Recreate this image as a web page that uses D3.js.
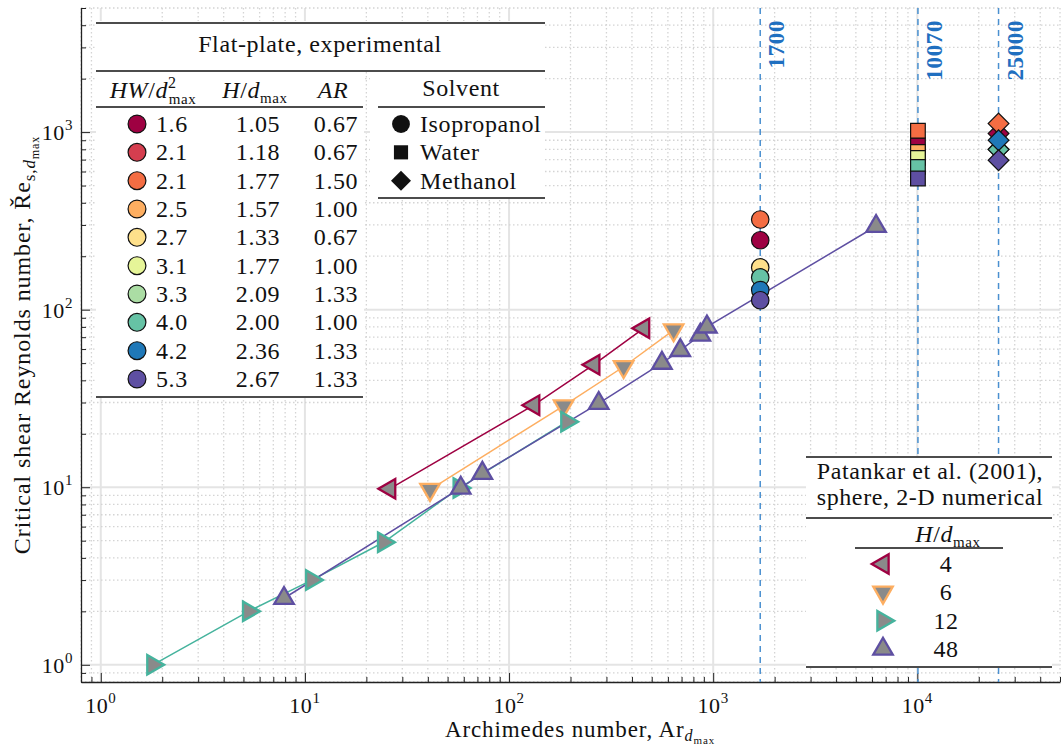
<!DOCTYPE html>
<html><head><meta charset="utf-8">
<script src="https://cdn.jsdelivr.net/npm/d3@7"></script>
<style>
body{margin:0;background:#fff}
text{font-family:"Liberation Serif",serif;fill:#111;letter-spacing:0.6px}
</style></head>
<body><svg id="chart" width="1061" height="748"></svg>
<script>
// flat-plate experiments (legend table + colours)
var hwLabels = ["1.6","2.1","2.1","2.5","2.7","3.1","3.3","4.0","4.2","5.3"];
var hLabels  = ["1.05","1.18","1.77","1.57","1.33","1.77","2.09","2.00","2.36","2.67"];
var arLabels = ["0.67","0.67","1.50","1.00","0.67","1.00","1.33","1.00","1.33","1.33"];
var plateColors = ["#9e0142","#d53e4f","#f46d43","#fdae61","#fee08b","#e6f598","#abdda4","#66c2a5","#1f78b8","#5e4fa2"];

// critical Re per plate, one array per solvent (null = not visible)
var solvents = ["Isopropanol","Water","Methanol"];
var solventAr = [1700, 10070, 25000];
var isoRe   = [246, null, 322, null, 173, null, null, 152, 129, 113];
var waterRe = [844, null, 1018, 774, null, 716, null, 637, null, 548];
var methRe  = [981, null, 1117, null, null, null, 800, 798, 899, 695];

// Patankar et al. (2001)
var patH = [4, 6, 12, 48];
var pat4Ar  = [26, 132, 260, 456],       pat4Re  = [9.8, 29, 49, 78.5];
var pat6Ar  = [41, 185, 364, 640],       pat6Re  = [9.7, 28.7, 47.7, 76.8];
var pat12Ar = [1.8, 5.3, 10.8, 24.3, 57, 192], pat12Re = [1.0, 2.0, 3.0, 4.9, 9.9, 23.4];
var pat48Ar = [7.9, 58, 74, 275, 561, 690, 865, 932, 6280];
var pat48Re = [2.37, 9.9, 12, 29.7, 50, 59, 72, 80, 295];

var svg = d3.select("#chart");
var x = d3.scaleLog().domain([0.8, 5e4]).range([81, 1060]);
var y = d3.scaleLog().domain([0.8, 5000]).range([682, 8]);
var isMajor = d => Math.abs(Math.log10(d) - Math.round(Math.log10(d))) < 1e-9;

function rich(sel, parts) {
    var off = 0;
    parts.forEach(function(p) {
        var t = sel.append("tspan").text(p[0]);
        var want = p[2] || 0;
        t.attr("dy", want - off); off = want;
        if (p[1]) t.attr("font-size", p[1]);
        if (p[3]) t.attr("font-style", "italic");
        if (p[4]) t.attr("dx", p[4]);
    });
}

// grid
var xt = x.ticks(), yt = y.ticks();
var grid = svg.append("g");
grid.selectAll(".gx").data(xt).join("line")
    .attr("x1", d=>x(d)).attr("x2", d=>x(d)).attr("y1", 8).attr("y2", 682)
    .attr("stroke", d=>isMajor(d) ? "#e4e4e4" : "#d4d4d4")
    .attr("stroke-width", d=>isMajor(d) ? 2 : 1.3)
    .attr("stroke-dasharray", d=>isMajor(d) ? null : "1.5,2.5");
grid.selectAll(".gy").data(yt).join("line")
    .attr("y1", d=>y(d)).attr("y2", d=>y(d)).attr("x1", 81).attr("x2", 1060)
    .attr("stroke", d=>isMajor(d) ? "#e4e4e4" : "#d4d4d4")
    .attr("stroke-width", d=>isMajor(d) ? 2 : 1.3)
    .attr("stroke-dasharray", d=>isMajor(d) ? null : "1.5,2.5");

// axes, ticks pointing inward
var ax = svg.append("g").attr("transform", "translate(0,682)")
    .call(d3.axisBottom(x).tickValues(xt).tickSizeOuter(0).tickFormat(""));
ax.selectAll(".tick line").attr("y2", d=>isMajor(d) ? -9 : -5).attr("stroke", "#222");
ax.select(".domain").attr("stroke", "#222").attr("stroke-width", 1.3);
var ay = svg.append("g").attr("transform", "translate(81,0)")
    .call(d3.axisLeft(y).tickValues(yt).tickSizeOuter(0).tickFormat(""));
ay.selectAll(".tick line").attr("x2", d=>isMajor(d) ? 9 : 5).attr("stroke", "#222");
ay.select(".domain").attr("stroke", "#222").attr("stroke-width", 1.3);

xt.filter(isMajor).forEach(function(d) {
    var t = svg.append("text").attr("x", x(d)).attr("y", 713)
        .attr("text-anchor", "middle").attr("font-size", 22);
    rich(t, [["10"], [String(Math.round(Math.log10(d))), 15, -10]]);
});
yt.filter(isMajor).forEach(function(d) {
    var t = svg.append("text").attr("x", 73).attr("y", y(d) + 8)
        .attr("text-anchor", "end").attr("font-size", 22);
    rich(t, [["10"], [String(Math.round(Math.log10(d))), 15, -10]]);
});

var xl = svg.append("text").attr("x", 580).attr("y", 737)
    .attr("text-anchor", "middle").attr("font-size", 23).style("letter-spacing", "0.9px");
rich(xl, [["Archimedes number, Ar"], ["d", 16, 4, true], ["max", 11, 7]]);
var yl = svg.append("text").attr("transform", "translate(30,345) rotate(-90)")
    .attr("text-anchor", "middle").attr("font-size", 24).style("letter-spacing", "0.9px");
rich(yl, [["Critical shear Reynolds number, Ře"], ["s,", 17, 5], ["d", 17, 5, true], ["max", 12, 9]]);

// vertical reference lines
solventAr.forEach(function(v) {
    svg.append("line").attr("x1", x(v)).attr("x2", x(v)).attr("y1", 8).attr("y2", 682)
        .attr("stroke", "#4a90d0").attr("stroke-width", 1.5).attr("stroke-dasharray", "6,5");
    svg.append("text").attr("transform", "translate(" + (x(v) + 24) + ",20) rotate(-90)")
        .attr("text-anchor", "end").attr("font-size", 23).attr("font-weight", "bold")
        .style("fill", "#1f6fc0").text(v);
});

// Patankar series
var patSeries = [
    {h: 4,  ar: pat4Ar,  re: pat4Re,  color: "#9e0142", rot: -90},
    {h: 6,  ar: pat6Ar,  re: pat6Re,  color: "#fdae61", rot: 180},
    {h: 12, ar: pat12Ar, re: pat12Re, color: "#45b39d", rot: 90},
    {h: 48, ar: pat48Ar, re: pat48Re, color: "#5e4fa2", rot: 0}
];
var tri = d3.symbol().type(d3.symbolTriangle).size(165)();
var line = d3.line().x(d=>x(d[0])).y(d=>y(d[1]));
patSeries.forEach(function(s) {
    var pts = s.ar.map((a, i) => [a, s.re[i]]);
    svg.append("path").attr("d", line(pts)).attr("fill", "none")
        .attr("stroke", s.color).attr("stroke-width", 1.5);
});
patSeries.forEach(function(s) {
    var pts = s.ar.map((a, i) => [a, s.re[i]]);
    svg.append("g").selectAll("path").data(pts).join("path")
        .attr("d", tri)
        .attr("transform", d => "translate(" + x(d[0]) + "," + y(d[1]) + ") rotate(" + s.rot + ")")
        .attr("fill", "#8a8a8a").attr("stroke", s.color).attr("stroke-width", 2.3);
});

// experimental markers
var circ = d3.symbol().type(d3.symbolCircle).size(240)();
var sq = d3.symbol().type(d3.symbolSquare).size(215)();
var dia = d3.symbol().type(d3.symbolSquare).size(215)();
var shapes = [[circ, 0], [sq, 0], [dia, 45]];
[isoRe, waterRe, methRe].forEach(function(res, k) {
    var pts = res.map((r, i) => ({r: r, i: i})).filter(d => d.r != null);
    svg.append("g").selectAll("path").data(pts).join("path")
        .attr("d", shapes[k][0])
        .attr("transform", d => "translate(" + x(solventAr[k]) + "," + y(d.r) + ") rotate(" + shapes[k][1] + ")")
        .attr("fill", d => plateColors[d.i]).attr("stroke", "#111").attr("stroke-width", 1.2);
});

// legend: flat-plate table
var lg = svg.append("g").attr("font-size", 24);
lg.append("rect").attr("x", 96).attr("y", 21).attr("width", 449).attr("height", 51).attr("fill", "#fff");
lg.append("rect").attr("x", 96).attr("y", 72).attr("width", 268).attr("height", 326).attr("fill", "#fff");
lg.append("rect").attr("x", 370).attr("y", 72).attr("width", 175).attr("height", 127).attr("fill", "#fff");
function rule(x1, x2, yy) {
    svg.append("line").attr("x1", x1).attr("x2", x2).attr("y1", yy).attr("y2", yy)
        .attr("stroke", "#111").attr("stroke-width", 1.5);
}
rule(96, 545, 23); rule(96, 545, 71); rule(96, 363, 107); rule(378, 545, 107);
rule(96, 363, 397); rule(378, 545, 198);
lg.append("text").attr("x", 320).attr("y", 52).attr("text-anchor", "middle").text("Flat-plate, experimental");
var h1 = lg.append("text").attr("x", 153).attr("y", 98).attr("text-anchor", "middle");
rich(h1, [["HW", null, 0, true], ["/"], ["d", null, 0, true], ["2", 16, -10], ["max", 15, 6, false, -8]]);
var h2 = lg.append("text").attr("x", 255).attr("y", 98).attr("text-anchor", "middle");
rich(h2, [["H", null, 0, true], ["/"], ["d", null, 0, true], ["max", 15, 5]]);
lg.append("text").attr("x", 333).attr("y", 98).attr("text-anchor", "middle")
    .attr("font-style", "italic").text("AR");
lg.append("text").attr("x", 461).attr("y", 96).attr("text-anchor", "middle").text("Solvent");

var rowY = d3.scaleLinear().domain([0, 9]).range([124, 379]);
var legCirc = d3.symbol().type(d3.symbolCircle).size(250)();
hwLabels.forEach(function(h, i) {
    var yy = rowY(i);
    lg.append("path").attr("d", legCirc).attr("transform", "translate(137," + yy + ")")
        .attr("fill", plateColors[i]).attr("stroke", "#111").attr("stroke-width", 1.2);
    lg.append("text").attr("x", 156).attr("y", yy + 8).text(h);
    lg.append("text").attr("x", 258).attr("y", yy + 8).attr("text-anchor", "middle").text(hLabels[i]);
    lg.append("text").attr("x", 336).attr("y", yy + 8).attr("text-anchor", "middle").text(arLabels[i]);
});
var solShapes = [[d3.symbol().type(d3.symbolCircle).size(250)(), 0],
                 [d3.symbol().type(d3.symbolSquare).size(200)(), 0],
                 [d3.symbol().type(d3.symbolSquare).size(200)(), 45]];
solvents.forEach(function(s, k) {
    var yy = rowY(k);
    lg.append("path").attr("d", solShapes[k][0])
        .attr("transform", "translate(401," + yy + ") rotate(" + solShapes[k][1] + ")").attr("fill", "#111");
    lg.append("text").attr("x", 420).attr("y", yy + 8).text(s);
});

// legend: Patankar
var lp = svg.append("g").attr("font-size", 24);
lp.append("rect").attr("x", 806).attr("y", 456).attr("width", 246).attr("height", 212).attr("fill", "#fff");
rule(806, 1052, 457); rule(806, 1052, 518); rule(855, 1003, 548); rule(806, 1052, 667);
lp.append("text").attr("x", 930).attr("y", 479).attr("text-anchor", "middle").text("Patankar et al. (2001),");
lp.append("text").attr("x", 930).attr("y", 505).attr("text-anchor", "middle").text("sphere, 2-D numerical");
var h3 = lp.append("text").attr("x", 948).attr("y", 542).attr("text-anchor", "middle");
rich(h3, [["H", null, 0, true], ["/"], ["d", null, 0, true], ["max", 15, 5]]);
var patRow = d3.scaleLinear().domain([0, 3]).range([564, 649]);
patSeries.forEach(function(s, i) {
    var yy = patRow(i);
    lp.append("path").attr("d", tri).attr("transform", "translate(883," + yy + ") rotate(" + s.rot + ")")
        .attr("fill", "#8a8a8a").attr("stroke", s.color).attr("stroke-width", 2.3);
    lp.append("text").attr("x", 946).attr("y", yy + 8).attr("text-anchor", "middle").text(patH[i]);
});
</script>
</body></html>
